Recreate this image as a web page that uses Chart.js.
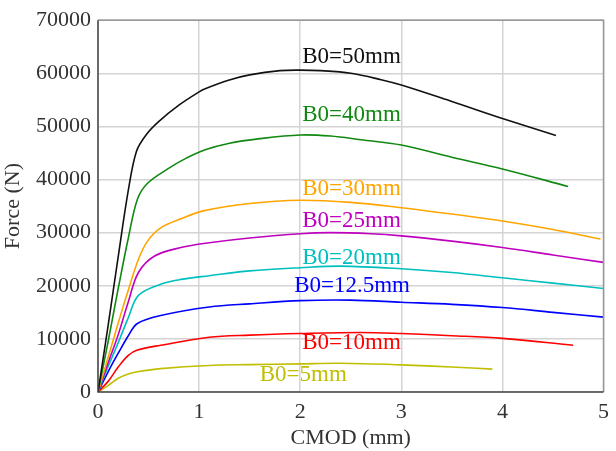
<!DOCTYPE html>
<html>
<head>
<meta charset="utf-8">
<script src="https://cdn.jsdelivr.net/npm/chart.js@4.4.0/dist/chart.umd.min.js"></script>
<style>
    body { margin: 0; background: #fff; }
    #wrap { width: 616px; height: 451px; }
</style>
</head>
<body>
<div id="wrap"><canvas id="forceChart"></canvas></div>
<script>
// CMOD (mm) / force (N), one pair per specimen
const b50Cmod = [0, 0.1, 0.2, 0.3, 0.38, 0.475, 0.6, 0.8, 1.0, 1.06, 1.29, 1.5, 1.8, 2.0, 2.2, 2.5, 2.8, 3.0, 3.5, 4.0, 4.53];
const b50Force = [0, 12500, 25500, 38000, 45300, 48400, 50900, 54000, 56500, 57100, 58700, 59700, 60500, 60600, 60500, 60000, 58800, 57800, 54700, 51500, 48300];

const b40Cmod = [0, 0.1, 0.2, 0.3, 0.39, 0.49, 0.69, 0.85, 1.06, 1.29, 1.6, 2.0, 2.3, 2.6, 3.0, 3.5, 4.0, 4.65];
const b40Force = [0, 9500, 19500, 29000, 36300, 39300, 42000, 43800, 45600, 46800, 47700, 48400, 48200, 47500, 46500, 44200, 42000, 38700];

const b30Cmod = [0, 0.1, 0.2, 0.3, 0.4, 0.49, 0.62, 0.82, 1.04, 1.5, 2.0, 2.5, 3.0, 3.5, 4.0, 4.5, 4.97];
const b30Force = [0, 6500, 13000, 19200, 25000, 28400, 30900, 32600, 34100, 35500, 36100, 35700, 34700, 33500, 32200, 30600, 28800];

const b25Cmod = [0, 0.1, 0.2, 0.3, 0.4, 0.56, 0.82, 1.1, 1.5, 2.0, 2.3, 2.7, 3.0, 3.5, 4.0, 4.5, 5.0];
const b25Force = [0, 5500, 10800, 17000, 22500, 25600, 27200, 28100, 29000, 29800, 30000, 29800, 29400, 28400, 27200, 25800, 24400];

const b20Cmod = [0, 0.1, 0.2, 0.3, 0.4, 0.62, 0.82, 1.1, 1.5, 2.0, 2.4, 3.0, 3.5, 4.0, 4.5, 5.0];
const b20Force = [0, 4800, 9300, 14000, 18200, 20300, 21200, 21900, 22800, 23400, 23700, 23200, 22500, 21500, 20500, 19500];

const b125Cmod = [0, 0.1, 0.2, 0.3, 0.39, 0.62, 1.1, 1.5, 2.0, 2.5, 3.0, 3.5, 4.0, 4.5, 5.0];
const b125Force = [0, 3800, 7300, 10600, 12900, 14400, 16000, 16600, 17200, 17300, 16900, 16500, 15900, 15000, 14100];

const b10Cmod = [0, 0.1, 0.2, 0.3, 0.39, 0.62, 1.1, 1.5, 2.0, 2.6, 3.0, 3.5, 4.0, 4.7];
const b10Force = [0, 2000, 4700, 6900, 7900, 8800, 10300, 10700, 11000, 11200, 11000, 10600, 10100, 8800];

const b5Cmod = [0, 0.1, 0.2, 0.3, 0.39, 0.62, 1.1, 1.5, 2.0, 2.4, 3.0, 3.5, 3.9];
const b5Force = [0, 1200, 2600, 3400, 3800, 4400, 5000, 5150, 5300, 5400, 5100, 4700, 4300];

const seriesNames = ['B0=50mm', 'B0=40mm', 'B0=30mm', 'B0=25mm', 'B0=20mm', 'B0=12.5mm', 'B0=10mm', 'B0=5mm'];
const seriesColors = ['#111111', '#118811', '#ffa500', '#bf00bf', '#00bfbf', '#0000ff', '#ff0000', '#bfbf00'];
// where each curve's name sits (left edge x, middle y), in data units
const labelCmod = [2.02, 2.02, 2.02, 2.02, 2.02, 1.94, 2.02, 1.6];
const labelForce = [63100, 52200, 38200, 32200, 25300, 20000, 9200, 3200];

const xTicks = [0, 1, 2, 3, 4, 5];
const yTicks = [0, 10000, 20000, 30000, 40000, 50000, 60000, 70000];

const allCmod = [b50Cmod, b40Cmod, b30Cmod, b25Cmod, b20Cmod, b125Cmod, b10Cmod, b5Cmod];
const allForce = [b50Force, b40Force, b30Force, b25Force, b20Force, b125Force, b10Force, b5Force];

const FONT = "'Liberation Serif', 'DejaVu Serif', serif";

const datasets = seriesNames.map((name, i) => ({
    label: name,
    data: allCmod[i].map((x, k) => ({ x: x, y: allForce[i][k] })),
    borderColor: seriesColors[i],
    borderWidth: 1.6,
    pointRadius: 0,
    fill: false,
    tension: 0.35
}));

const curveLabels = {
    id: 'curveLabels',
    afterDatasetsDraw(chart) {
        const ctx = chart.ctx;
        const xs = chart.scales.x;
        const ys = chart.scales.y;
        ctx.save();
        ctx.font = '23px ' + FONT;
        ctx.textAlign = 'left';
        ctx.textBaseline = 'middle';
        seriesNames.forEach((name, i) => {
            ctx.fillStyle = seriesColors[i];
            ctx.fillText(name, xs.getPixelForValue(labelCmod[i]), ys.getPixelForValue(labelForce[i]));
        });
        ctx.restore();
    },
    afterDraw(chart) {
        const ctx = chart.ctx;
        const a = chart.chartArea;
        ctx.save();
        ctx.lineWidth = 1.5;
        ctx.strokeStyle = '#999999';
        ctx.beginPath();
        ctx.moveTo(a.left, a.top);
        ctx.lineTo(a.right, a.top);
        ctx.lineTo(a.right, a.bottom);
        ctx.stroke();
        ctx.strokeStyle = '#444444';
        ctx.beginPath();
        ctx.moveTo(a.left, a.top);
        ctx.lineTo(a.left, a.bottom);
        ctx.lineTo(a.right, a.bottom);
        ctx.stroke();
        ctx.restore();
    }
};

new Chart(document.getElementById('forceChart').getContext('2d'), {
    type: 'line',
    data: { datasets: datasets },
    options: {
        responsive: true,
        maintainAspectRatio: false,
        animation: false,
        layout: { padding: { top: 18, right: 6, left: 0, bottom: 0 } },
        plugins: {
            legend: { display: false },
            tooltip: { enabled: false }
        },
        scales: {
            x: {
                type: 'linear',
                min: 0,
                max: 5,
                afterBuildTicks: scale => { scale.ticks = xTicks.map(v => ({ value: v })); },
                afterFit: scale => { scale.height = 59; },
                grid: { color: '#d4d4d4', lineWidth: 1.5, drawTicks: false },
                border: { display: false },
                ticks: {
                    color: '#333',
                    padding: 7,
                    font: { family: FONT, size: 22 },
                    callback: v => String(v)
                },
                title: {
                    display: true,
                    text: 'CMOD (mm)',
                    color: '#333',
                    padding: { top: 0, bottom: 0 },
                    font: { family: FONT, size: 22 }
                }
            },
            y: {
                type: 'linear',
                min: 0,
                max: 70000,
                afterBuildTicks: scale => { scale.ticks = yTicks.map(v => ({ value: v })); },
                afterFit: scale => { scale.width = 98; },
                grid: { color: '#d4d4d4', lineWidth: 1.5, drawTicks: false },
                border: { display: false },
                ticks: {
                    color: '#333',
                    padding: 7,
                    font: { family: FONT, size: 22 },
                    callback: v => String(v)
                },
                title: {
                    display: true,
                    text: 'Force (N)',
                    color: '#333',
                    padding: { top: 0, bottom: 2 },
                    font: { family: FONT, size: 22 }
                }
            }
        }
    },
    plugins: [curveLabels]
});
</script>
</body>
</html>
